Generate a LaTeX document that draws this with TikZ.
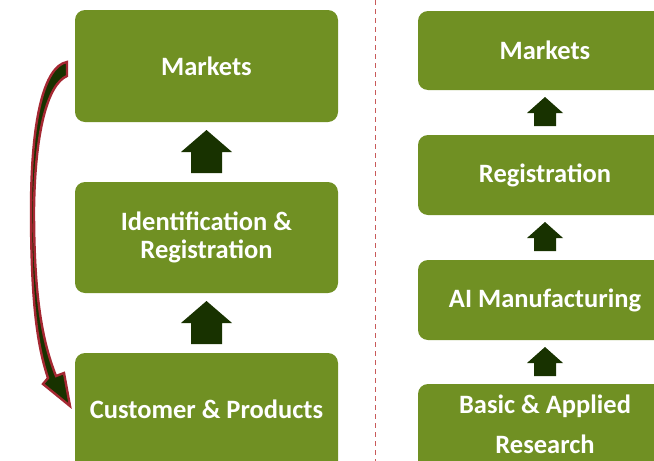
\documentclass[tikz,border=0pt]{standalone}
\usepackage{fontspec}
\setmainfont{Carlito}
\definecolor{boxgreen}{RGB}{112,144,35}
\definecolor{arrowgreen}{RGB}{24,50,0}
\definecolor{curvered}{RGB}{165,40,50}
\definecolor{dashred}{RGB}{200,90,90}
\begin{document}
\begin{tikzpicture}[x=1pt,y=-1pt,
  lbl/.style={text=white,font=\fontsize{26.5}{30}\selectfont\bfseries,align=center,inner sep=0pt},
]
\useasboundingbox (0,0) rectangle (654,461);
\clip (0,0) rectangle (654,461);
% left column boxes
\fill[boxgreen,rounded corners=10pt] (75,10) rectangle (338,122);
\node[lbl] (lm) at (206.5,66) {Markets};
\fill[boxgreen,rounded corners=10pt] (75,182) rectangle (338,293);
\node[lbl,font=\fontsize{26.5}{28}\selectfont\bfseries] (lr) at (206.5,237.5) {Identification \&\\Registration};
\fill[boxgreen,rounded corners=10pt] (75,353) rectangle (338,480);
\node[lbl] (lc) at (206.5,409) {Customer \& Products};
% right column boxes
\fill[boxgreen,rounded corners=10pt] (418,11) rectangle (672,90);
\node[lbl] (rm) at (545,50) {Markets};
\fill[boxgreen,rounded corners=10pt] (418,135) rectangle (672,215);
\node[lbl] (rr) at (545,175) {Registration};
\fill[boxgreen,rounded corners=10pt] (418,260) rectangle (672,340);
\node[lbl] (ra) at (545,300) {AI Manufacturing};
\fill[boxgreen,rounded corners=10pt] (418,384) rectangle (672,480);
\node[lbl,font=\fontsize{26.5}{40}\selectfont\bfseries] (rb) at (545,424) {Basic \& Applied\\Research};
% left block arrows
\foreach \y in {130,301}{
  \fill[arrowgreen] (206.5,\y) -- (232,\y+22) -- (222,\y+22) -- (222,\y+43) -- (191,\y+43) -- (191,\y+22) -- (181,\y+22) -- cycle;
}
% right block arrows
\foreach \y in {97,222,347}{
  \fill[arrowgreen] (545,\y) -- (563,\y+16) -- (556,\y+16) -- (556,\y+29) -- (534,\y+29) -- (534,\y+16) -- (527,\y+16) -- cycle;
}
% dashed separator
\draw[dashred,line width=1.6pt,dash pattern=on 5pt off 4pt] (375.5,0) -- (375.5,461);
% curved arrow
\filldraw[fill=arrowgreen,draw=curvered,line width=2.4pt,line join=miter]
  (67,62) .. controls (44,66) and (31,120) .. (31,210)
  .. controls (31,300) and (37,345) .. (48,378)
  -- (43,384) -- (70,406) -- (64,373) -- (56,376)
  .. controls (43,343) and (34,300) .. (34,210)
  .. controls (35,130) and (48,84) .. (67,76) -- cycle;
\end{tikzpicture}
\end{document}
